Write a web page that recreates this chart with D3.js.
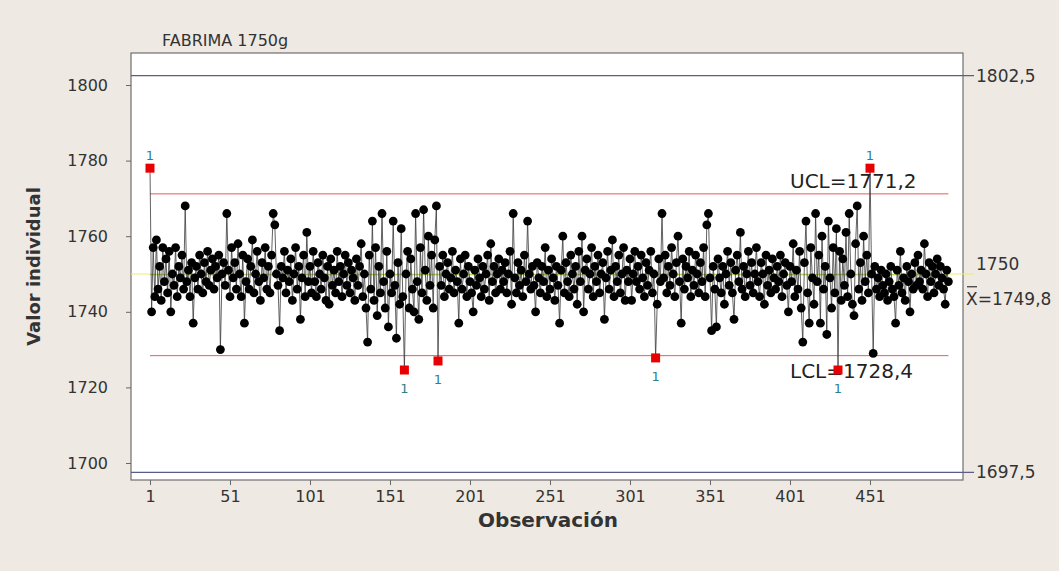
<!DOCTYPE html>
<html><head><meta charset="utf-8">
<script src="https://cdn.jsdelivr.net/npm/d3@7"></script>
<style>
html,body{margin:0;padding:0;background:#efe9e3;}
svg{display:block;}
text{font-family:"DejaVu Sans",Verdana,sans-serif;}
</style></head>
<body>
<svg id="chart" width="1059" height="571"></svg>
<script>
// ---- data ----
const title = "FABRIMA 1750g";
const values = [
1778,1740,1757,1744,1759,1746,1752,1743,1757,1748,1754,1745,1756,1740,1750,1747,1757,1744,1752,1749,
1755,1746,1768,1748,1751,1744,1753,1737,1749,1752,1746,1755,1750,1745,1753,1748,1756,1747,1751,1754,
1746,1752,1749,1755,1730,1750,1753,1747,1766,1751,1744,1757,1749,1753,1746,1758,1750,1744,1755,1737,
1748,1754,1746,1752,1759,1745,1750,1756,1748,1743,1753,1749,1757,1746,1752,1745,1755,1766,1763,1750,
1747,1735,1752,1749,1756,1745,1751,1748,1754,1743,1750,1757,1746,1752,1738,1749,1755,1744,1761,1748,
1752,1745,1756,1748,1744,1753,1750,1746,1755,1749,1743,1752,1742,1754,1747,1751,1745,1756,1748,1752,
1744,1750,1755,1747,1753,1745,1751,1749,1743,1754,1747,1752,1758,1744,1750,1741,1732,1755,1746,1764,
1743,1757,1739,1752,1745,1766,1748,1741,1756,1736,1750,1745,1764,1747,1733,1753,1742,1762,1744,1724.6,
1750,1756,1741,1754,1746,1740,1766,1748,1738,1757,1745,1767,1751,1743,1760,1747,1755,1741,1759,1768,
1727,1752,1747,1755,1744,1750,1753,1746,1749,1756,1745,1751,1748,1737,1754,1746,1750,1755,1744,1752,
1748,1745,1740,1751,1747,1754,1749,1744,1752,1746,1750,1755,1743,1758,1748,1752,1745,1750,1754,1746,
1751,1748,1753,1745,1750,1756,1742,1766,1749,1745,1753,1747,1751,1744,1755,1748,1764,1750,1746,1752,
1747,1740,1753,1749,1745,1752,1748,1757,1744,1751,1746,1754,1749,1743,1752,1747,1737,1751,1760,1745,
1753,1748,1744,1755,1750,1746,1752,1742,1756,1748,1760,1740,1751,1754,1746,1750,1757,1744,1752,1748,
1755,1745,1750,1753,1738,1749,1756,1746,1751,1759,1744,1752,1748,1755,1745,1750,1757,1743,1751,1748,
1754,1743,1750,1756,1748,1752,1746,1755,1749,1744,1753,1747,1751,1756,1745,1750,1727.8,1742,1754,1748,
1766,1749,1755,1745,1752,1747,1757,1750,1744,1753,1760,1748,1737,1754,1746,1752,1749,1756,1744,1751,
1747,1755,1750,1745,1753,1748,1757,1744,1763,1766,1749,1735,1752,1746,1736,1754,1749,1745,1752,1742,
1750,1756,1747,1753,1745,1738,1751,1755,1748,1761,1746,1752,1744,1750,1756,1747,1753,1745,1750,1757,
1748,1744,1753,1750,1742,1755,1747,1751,1745,1754,1749,1746,1752,1748,1755,1744,1750,1753,1747,1740,
1752,1748,1758,1744,1751,1746,1756,1741,1732,1753,1764,1745,1737,1757,1749,1742,1766,1748,1755,1737,
1760,1746,1752,1734,1764,1749,1741,1757,1745,1762,1724.6,1756,1743,1754,1747,1761,1744,1766,1750,1742,
1739,1758,1768,1746,1753,1743,1760,1748,1755,1745,1778,1750,1729,1752,1746,1749,1744,1751,1747,1745,
1750,1743,1748,1752,1746,1744,1737,1751,1747,1756,1745,1749,1743,1752,1748,1740,1750,1746,1753,1747,
1755,1748,1751,1746,1758,1750,1744,1753,1748,1752,1745,1750,1754,1747,1752,1749,1746,1742,1751,1748
];
const centerLine = 1749.8, ucl = 1771.2, lcl = 1728.4, target = 1750;
const specLimits = [1802.5, 1697.5];
const specLabels = ["1802,5", "1697,5"];
const targetLabel = "1750";
const uclLabel = "UCL=1771,2", lclLabel = "LCL=1728,4", clLabel = "=1749,8";
const xTicks = [1,51,101,151,201,251,301,351,401,451];
const yTicks = [1700,1720,1740,1760,1780,1800];
const xTitle = "Observación", yTitle = "Valor individual";

// ---- layout ----
const plot = {left:131, right:963, top:53, bottom:480};
const svg = d3.select("#chart");
const x = d3.scaleLinear().domain([1,451]).range([150,870]);
const y = d3.scaleLinear().domain([1700,1800]).range([463,85]);
const data = values.map((v,i)=>({i:i+1,v}));
const nObs = values.length;

svg.append("rect").attr("x",plot.left).attr("y",plot.top)
  .attr("width",plot.right-plot.left).attr("height",plot.bottom-plot.top)
  .attr("fill","#ffffff").attr("stroke","#6e6e6e").attr("stroke-width",1.2);

// axes
const gx = svg.append("g").attr("transform",`translate(0,${plot.bottom})`)
  .call(d3.axisBottom(x).tickValues(xTicks).tickSize(5).tickPadding(4).tickFormat(d3.format("d")));
const gy = svg.append("g").attr("transform",`translate(${plot.left},0)`)
  .call(d3.axisLeft(y).tickValues(yTicks).tickSize(5).tickPadding(18).tickFormat(d3.format("d")));
[gx,gy].forEach(g=>{
  g.select(".domain").remove();
  g.selectAll("line").attr("stroke","#666");
  g.selectAll("text").attr("fill","#333").style("font-size","16px");
});
gx.selectAll("text").attr("dy","0.8em");

// spec (blue) lines
specLimits.forEach((s,k)=>{
  svg.append("line").attr("x1",plot.left).attr("x2",plot.right+11)
    .attr("y1",y(s)).attr("y2",y(s)).attr("stroke","#5b5b8c").attr("stroke-width",1.2);
  svg.append("text").attr("x",976).attr("y",y(s)).attr("dy","0.35em")
    .attr("fill","#333").style("font-size","17px").text(specLabels[k]);
});
// target line (yellow)
svg.append("line").attr("x1",plot.left).attr("x2",plot.right+11)
  .attr("y1",y(target)).attr("y2",y(target)).attr("stroke","#eeee70").attr("stroke-width",1.2);
svg.append("text").attr("x",976).attr("y",y(target)-4)
  .attr("fill","#333").style("font-size","17px").text(targetLabel);

// control limits
[ucl,lcl].forEach(l=>{
  svg.append("line").attr("x1",x(1)).attr("x2",x(nObs))
    .attr("y1",y(l)).attr("y2",y(l)).attr("stroke","#e85c5c").attr("stroke-width",1);
});
svg.append("line").attr("x1",x(1)).attr("x2",x(nObs))
  .attr("y1",y(centerLine)).attr("y2",y(centerLine)).attr("stroke","#9acd32").attr("stroke-width",1.2);

// data line
svg.append("path").datum(data)
  .attr("d",d3.line().x(d=>x(d.i)).y(d=>y(d.v)))
  .attr("fill","none").attr("stroke","#3a3a3a").attr("stroke-width",0.8);

const inCtrl = data.filter(d=>d.v<=ucl && d.v>=lcl);
const outCtrl = data.filter(d=>d.v>ucl || d.v<lcl);
svg.append("g").selectAll("circle").data(inCtrl).join("circle")
  .attr("cx",d=>x(d.i)).attr("cy",d=>y(d.v)).attr("r",4.4).attr("fill","#000");

// limit labels
svg.append("text").attr("x",790).attr("y",y(ucl)-6).attr("fill","#222").style("font-size","20px").text(uclLabel);
svg.append("text").attr("x",790).attr("y",y(lcl)+22).attr("fill","#222").style("font-size","20px").text(lclLabel);

svg.append("g").selectAll("rect").data(outCtrl).join("rect")
  .attr("x",d=>x(d.i)-4.5).attr("y",d=>y(d.v)-4.5).attr("width",9).attr("height",9).attr("fill","#e80000");
svg.append("g").selectAll("text").data(outCtrl).join("text")
  .attr("x",d=>x(d.i)).attr("y",d=>d.v>ucl? y(d.v)-8 : y(d.v)+23)
  .attr("text-anchor","middle").attr("fill","#2f7f8c").style("font-size","13px").text("1");

const clT = svg.append("text").attr("x",966).attr("y",y(centerLine)+30)
  .attr("fill","#333").style("font-size","17px");
clT.append("tspan").text("X");
clT.append("tspan").text(clLabel);
svg.append("line").attr("x1",967).attr("x2",977).attr("y1",y(centerLine)+12).attr("y2",y(centerLine)+12)
  .attr("stroke","#333").attr("stroke-width",1.2);

// titles
svg.append("text").attr("x",162).attr("y",46).attr("fill","#333").style("font-size","16px").text(title);
svg.append("text").attr("x",548).attr("y",527).attr("text-anchor","middle")
  .attr("fill","#333").style("font-size","20px").style("font-weight","bold").text(xTitle);
svg.append("text").attr("transform",`translate(40,${(plot.top+plot.bottom)/2}) rotate(-90)`)
  .attr("text-anchor","middle").attr("fill","#333").style("font-size","18px").style("font-weight","bold").text(yTitle);
</script>
</body></html>
